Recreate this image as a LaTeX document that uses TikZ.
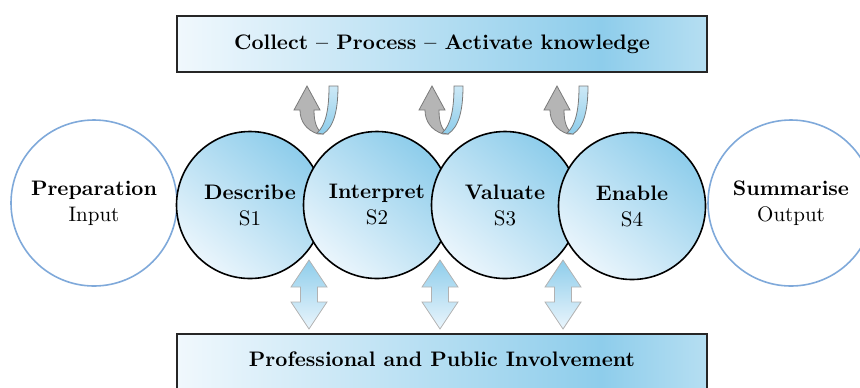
\documentclass[tikz,border=0pt]{standalone}
\usepackage{tikz}
\usetikzlibrary{positioning,arrows,calc,shapes}

\definecolor{skyblue}{HTML}{8ECDEB}
\definecolor{paleblue}{HTML}{EAF5FC}
\definecolor{ringblue}{HTML}{7FA9DA}
\definecolor{arrowgray}{HTML}{B5B5B5}
\definecolor{edgegray}{HTML}{7A7A7A}

\pgfdeclarehorizontalshading{bandshade}{100bp}{color(0bp)=(paleblue!70!white); color(25bp)=(paleblue!70!white); color(65bp)=(skyblue); color(75bp)=(skyblue!65!white); color(100bp)=(skyblue!65!white)}

\tikzset{
    x=0.5pt,
    y=-0.5pt,
    band/.style = {
        draw=black!85,
        shape=rectangle,
        minimum width=265pt,
        line width=0.8pt,
        shading=bandshade,
        font=\fontsize{10.5}{12.6}\selectfont\bfseries
    },
    stage/.style = {
        draw=black,
        shape=circle,
        minimum size=73.5pt,
        inner sep=0pt,
        line width=0.8pt,
        top color=skyblue,
        bottom color=paleblue,
        shading angle=-40,
        align=center,
        font=\fontsize{10.5}{13}\selectfont
    },
    endpoint/.style = {
        draw=ringblue,
        shape=circle,
        minimum size=83pt,
        inner sep=0pt,
        line width=0.8pt,
        fill=white,
        align=center,
        font=\fontsize{10.5}{13}\selectfont
    },
    backarrow/.style = {
        draw=edgegray,
        line width=0.4pt,
        fill=arrowgray
    },
    ribbon/.style = {
        draw=edgegray,
        line width=0.4pt,
        top color=skyblue!45!white,
        bottom color=skyblue
    },
    exchange/.style = {
        draw=black!30,
        line width=0.4pt,
        top color=skyblue,
        bottom color=paleblue
    },
    >=latex',
}

\begin{document}
\begin{tikzpicture}
            \clip (0,0) rectangle (860,387);

            \node[band, minimum height=28pt] (collect) at (442,44) {Collect -- Process -- Activate knowledge};
            \node[band, minimum height=30pt, text depth=5pt] (involve) at (442,364) {Professional and Public Involvement};

            \node[endpoint] (prep) at (94,203) {\textbf{Preparation}\\Input};
            \node[stage] (describe) at (250,205) {\textbf{Describe}\\S1};
            \node[stage] (interpret) at (377,205) {\textbf{Interpret}\\S2};
            \node[stage] (valuate) at (505,205) {\textbf{Valuate}\\S3};
            \node[stage] (enable) at (632,206) {\textbf{Enable}\\S4};
            \node[endpoint] (summ) at (791,203) {\textbf{Summarise}\\Output};

            \foreach \x in {290,415,540} {
                \begin{scope}[shift={(\x,85)}]
                    \path[backarrow] (17,1) -- (30,25) -- (24,25) .. controls (24,38) and (27,45) .. (33,49) -- (28,49) .. controls (16,45) and (10,36) .. (10,25) -- (4,25) -- cycle;
                    \path[ribbon] (27,48) .. controls (36,40) and (39,24) .. (39,1) -- (48,1) .. controls (48,25) and (44,42) .. (33,49) -- cycle;
                \end{scope}
            }

            \foreach \c in {309,440,563} {
                \path[exchange] (\c,260) -- ++(18,27) -- ++(-9.5,0) -- ++(0,15) -- ++(9.5,0) -- ++(-18,27) -- ++(-18,-27) -- ++(9.5,0) -- ++(0,-15) -- ++(-9.5,0) -- cycle;
            }
        \end{tikzpicture}
\end{document}
